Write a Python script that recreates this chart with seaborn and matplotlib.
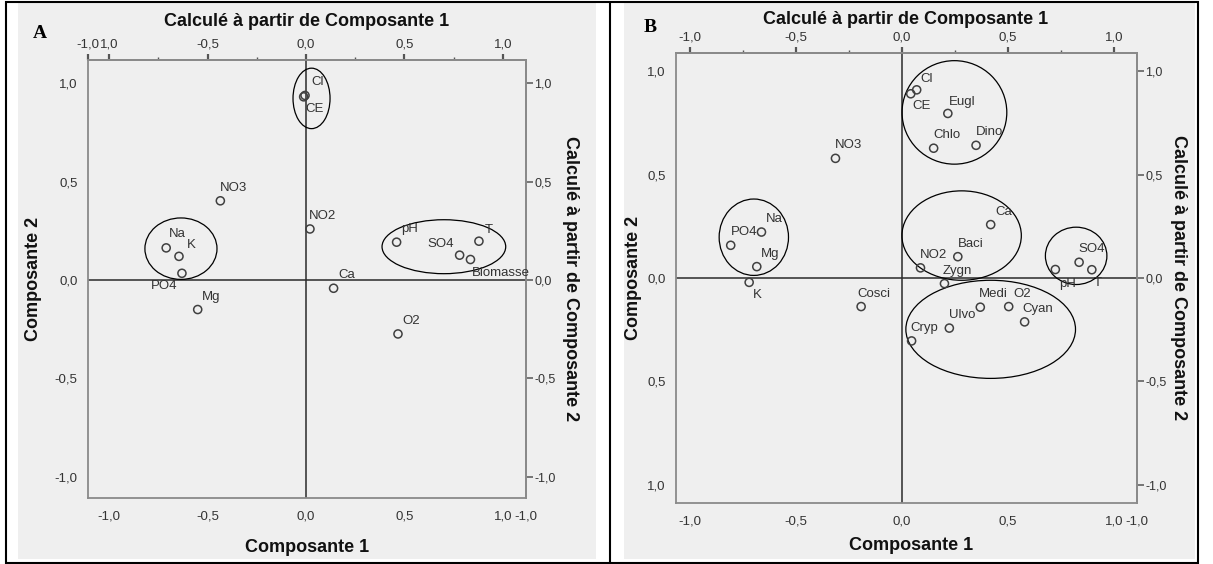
import matplotlib
matplotlib.use('Agg')
import matplotlib.pyplot as plt
from matplotlib.patches import Ellipse, Rectangle
from matplotlib.lines import Line2D
from matplotlib.ticker import FixedLocator
import seaborn as sns
import pandas as pd

# ---- Panel A : composantes 1 et 2 (variables physico-chimiques)
a_labels = ['Cl', 'CE', 'NO3', 'NO2', 'Na', 'K', 'PO4', 'Mg', 'Ca', 'O2',
            'pH', 'SO4', 'Biomasse', 'T']
a_comp1 = [-0.005, -0.012, -0.435, 0.02, -0.71, -0.645, -0.63, -0.55, 0.14, 0.467,
           0.46, 0.78, 0.835, 0.878]
a_comp2 = [0.937, 0.930, 0.402, 0.259, 0.163, 0.12, 0.034, -0.15, -0.042, -0.274,
           0.192, 0.126, 0.104, 0.197]
# groupes entourés (centre x, centre y, largeur, hauteur)
a_groups = [(0.028, 0.922, 0.188, 0.307),
            (-0.635, 0.159, 0.366, 0.312),
            (0.70, 0.169, 0.628, 0.274)]

# ---- Panel B : variables + taxons phytoplanctoniques
b_labels = ['Cl', 'CE', 'Eugl', 'Chlo', 'Dino', 'NO3', 'Ca', 'Baci', 'NO2', 'Zygn',
            'PO4', 'Na', 'Mg', 'K', 'pH', 'SO4', 'T', 'Cosci', 'Medi', 'O2',
            'Cyan', 'Ulvo', 'Cryp']
b_comp1 = [0.069, 0.041, 0.216, 0.149, 0.349, -0.314, 0.418, 0.263, 0.087, 0.20,
           -0.808, -0.663, -0.685, -0.721, 0.723, 0.835, 0.895, -0.193, 0.369, 0.503,
           0.578, 0.223, 0.045]
b_comp2 = [0.909, 0.89, 0.795, 0.627, 0.641, 0.578, 0.258, 0.103, 0.049, -0.027,
           0.158, 0.222, 0.055, -0.021, 0.041, 0.076, 0.040, -0.138, -0.141, -0.138,
           -0.212, -0.242, -0.304]
b_groups = [(0.247, 0.80, 0.494, 0.50),
            (0.281, 0.205, 0.563, 0.432),
            (0.418, -0.248, 0.80, 0.474),
            (-0.699, 0.197, 0.327, 0.369),
            (0.821, 0.107, 0.29, 0.277)]

# décalage des étiquettes (pixels) quand elles ne sont pas en haut à droite
a_offsets = {'PO4': (-18, -13), 'SO4': (-19, 11), 'T': (10, 11), 'Biomasse': (30, -13),
             'CE': (11, -12), 'Na': (11, 14), 'K': (12, 11)}
b_offsets = {'K': (8, -13), 'pH': (12, -14), 'T': (6, -13), 'Cl': (10, 11),
             'CE': (11, -12), 'Eugl': (14, 11)}

W, H = 1213, 564
sns.set_style('white')
plt.rcParams['font.family'] = ['Liberation Sans', 'DejaVu Sans']

fig = plt.figure(figsize=(W / 100, H / 100), dpi=100)
fig.patch.set_facecolor('white')

GRAY = '#efefef'
TXT = '#333333'


def fx(x):
    return x / W


def fy(y):
    return 1 - y / H


# fonds gris et cadre du tableau
for x0, x1 in [(18, 596), (624, 1195)]:
    fig.add_artist(Rectangle((fx(x0), fy(559)), fx(x1 - x0), (559 - 3) / H,
                             transform=fig.transFigure, fc=GRAY, ec='none', zorder=0))
fig.add_artist(Rectangle((fx(6), fy(563)), fx(1198 - 6), (563 - 2) / H,
                         transform=fig.transFigure, fill=False, ec='black', lw=1.5, zorder=5))
fig.add_artist(Line2D([fx(610), fx(610)], [fy(563), fy(2)], transform=fig.transFigure,
                      color='black', lw=1.5, zorder=5))


def panel(box, xlim, ylim, labels, c1, c2, groups, offsets,
          bottom_ticks, bottom_lbls, top_ticks, top_lbls,
          left_lbls, right_lbls, pos_title, pos_xlab, pos_ylab, pos_rlab, letter):
    left, top, right, bottom = box
    ax = fig.add_axes([fx(left), fy(bottom), fx(right - left), (bottom - top) / H])
    ax.set_facecolor(GRAY)
    ax.set_xlim(*xlim)
    ax.set_ylim(*ylim)

    ax.axvline(0, color='#2b2b2b', lw=1.1, zorder=1)
    ax.axhline(0, color='#2b2b2b', lw=1.1, zorder=1)

    df = pd.DataFrame({'label': labels, 'comp1': c1, 'comp2': c2})
    sns.scatterplot(data=df, x='comp1', y='comp2', ax=ax, marker='o', s=34,
                    facecolor='none', edgecolor='#404040', linewidth=1.1,
                    legend=False, zorder=3)
    for _, r in df.iterrows():
        dx, dy = offsets.get(r['label'], (13, 13))
        ax.annotate(r['label'], (r['comp1'], r['comp2']), xytext=(dx, dy),
                    textcoords='offset pixels', ha='center', va='center',
                    fontsize=9.5, color=TXT, zorder=4)

    for cx, cy, w, h in groups:
        ax.add_patch(Ellipse((cx, cy), w, h, fill=False, ec='black', lw=0.9, zorder=2))

    for s in ax.spines.values():
        s.set_color('#8a8a8a')
        s.set_linewidth(1.3)

    ticks_y = [-1, -0.5, 0, 0.5, 1]
    ax.set_xticks(bottom_ticks, bottom_lbls)
    ax.set_yticks(ticks_y, left_lbls)
    ax.tick_params(axis='x', direction='out', length=6, width=1.6, color='#555555',
                   labelsize=9.5, labelcolor=TXT, pad=3)
    ax.tick_params(axis='y', direction='out', length=6, width=1.1, color='#555555',
                   labelsize=9.5, labelcolor=TXT, pad=1.5)
    ax.set_xlabel('')
    ax.set_ylabel('')

    sx = ax.secondary_xaxis('top')
    sx.set_xticks(top_ticks, top_lbls)
    sx.xaxis.set_minor_locator(FixedLocator([-0.75, -0.25, 0.25, 0.75]))
    sx.tick_params(which='major', direction='out', length=4, width=1.6, color='#555555',
                   labelsize=9.5, labelcolor=TXT, pad=3)
    sx.tick_params(which='minor', direction='out', length=2, width=1.0, color='#555555')
    sx.spines['top'].set_color('#8a8a8a')
    sx.spines['top'].set_linewidth(1.3)

    sy = ax.secondary_yaxis('right')
    sy.set_yticks(ticks_y, right_lbls)
    sy.tick_params(direction='out', length=5, width=1.1, color='#555555',
                   labelsize=9, labelcolor=TXT, pad=1)
    sy.spines['right'].set_color('#8a8a8a')
    sy.spines['right'].set_linewidth(1.3)

    bold = dict(fontsize=13, fontweight='bold', color='#111111', ha='center', va='center')
    fig.text(fx(pos_title[0]), fy(pos_title[1]), 'Calculé à partir de Composante 1', **bold)
    fig.text(fx(pos_xlab[0]), fy(pos_xlab[1]), 'Composante 1', **bold)
    fig.text(fx(pos_ylab[0]), fy(pos_ylab[1]), 'Composante 2', rotation=90, **bold)
    fig.text(fx(pos_rlab[0]), fy(pos_rlab[1]), 'Calculé à partir de Composante 2',
             rotation=270, **bold)
    fig.text(fx(letter[1]), fy(letter[2]), letter[0], family='Liberation Serif',
             fontsize=14, fontweight='bold', ha='center', va='center', color='black')
    return ax


# Panel A
xa = (-1.107, 1.117)
panel((88, 60, 526, 498), xa, (-1.107, 1.117),
      a_labels, a_comp1, a_comp2, a_groups, a_offsets,
      [-1, -0.5, 0, 0.5, 1, xa[1]], ['-1,0', '-0,5', '0,0', '0,5', '1,0', '-1,0'],
      [xa[0], -1, -0.5, 0, 0.5, 1], ['-1,0', '1,0', '-0,5', '0,0', '0,5', '1,0'],
      ['-1,0', '-0,5', '0,0', '0,5', '1,0'], ['-1,0', '-0,5', '0,0', '0,5', '1,0'],
      (307, 22), (307, 547), (33, 279), (571, 279), ('A', 40, 33))

# Panel B
xb = (-1.066, 1.108)
panel((676, 53, 1137, 503), xb, (-1.087, 1.087),
      b_labels, b_comp1, b_comp2, b_groups, b_offsets,
      [-1, -0.5, 0, 0.5, 1, xb[1]], ['-1,0', '-0,5', '0,0', '0,5', '1,0', '-1,0'],
      [-1, -0.5, 0, 0.5, 1], ['-1,0', '-0,5', '0,0', '0,5', '1,0'],
      ['1,0', '0,5', '0,0', '0,5', '1,0'], ['-1,0', '-0,5', '0,0', '0,5', '1,0'],
      (906, 19), (911, 545), (633, 278), (1178, 278), ('B', 650, 27))

plt.savefig('out.png', dpi=100)
